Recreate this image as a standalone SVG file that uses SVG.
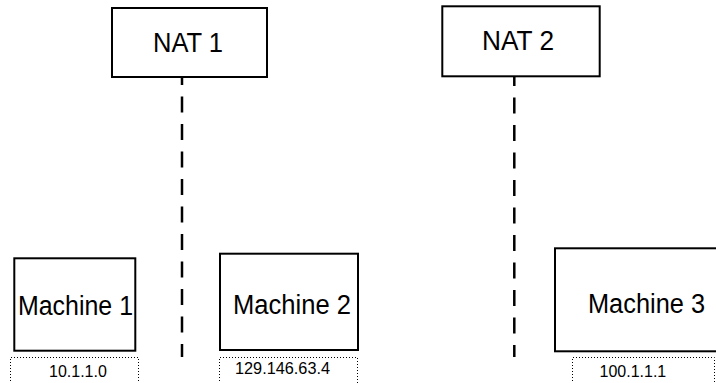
<svg xmlns="http://www.w3.org/2000/svg" width="716" height="383" viewBox="0 0 716 383">
<style>
.box{fill:#fff;stroke:#000;stroke-width:2}
.lbl{font-family:"Liberation Sans",Arial,sans-serif;font-size:27px;fill:#000}
.ip{font-family:"Liberation Sans",Arial,sans-serif;font-size:16px;fill:#000}
.dot{fill:none;stroke:#000;stroke-width:1;stroke-dasharray:1 2}
.dash{stroke:#000;stroke-width:2.5;stroke-dasharray:16 11.5;fill:none}
</style>
<rect width="716" height="383" fill="#fff"/>
<g id="connectors">
<line class="dash" x1="182" y1="78" x2="182" y2="357" stroke-dashoffset="9"/>
<line class="dash" x1="514.3" y1="76" x2="514.3" y2="357" stroke-dashoffset="6"/>
</g>
<g id="nat1">
<rect class="box" x="112" y="8" width="155" height="69"/>
<text class="lbl" x="153" y="51.5" textLength="70" lengthAdjust="spacingAndGlyphs">NAT 1</text>
</g>
<g id="nat2">
<rect class="box" x="442.3" y="6.3" width="157.4" height="70"/>
<text class="lbl" x="482" y="50" textLength="72" lengthAdjust="spacingAndGlyphs">NAT 2</text>
</g>
<g id="machine1">
<rect class="box" x="14.3" y="258.3" width="121" height="92.4"/>
<text class="lbl" x="18" y="315" textLength="115" lengthAdjust="spacingAndGlyphs">Machine 1</text>
</g>
<g id="machine2">
<rect class="box" x="220" y="253.7" width="138" height="96.3"/>
<text class="lbl" x="233" y="314" textLength="118" lengthAdjust="spacingAndGlyphs">Machine 2</text>
</g>
<g id="machine3">
<rect class="box" x="555" y="248.3" width="170" height="103"/>
<text class="lbl" x="588" y="312.5" textLength="117" lengthAdjust="spacingAndGlyphs">Machine 3</text>
</g>
<g id="ip1">
<path class="dot" d="M10.5 390 V357.5 H138.5 V390"/>
<text class="ip" x="49" y="377">10.1.1.0</text>
</g>
<g id="ip2">
<path class="dot" d="M219.5 390 V357.5 H357.5 V390"/>
<text class="ip" x="235" y="374" textLength="95" lengthAdjust="spacingAndGlyphs">129.146.63.4</text>
</g>
<g id="ip3">
<path class="dot" d="M572.5 390 V357.5 H714.5 V390"/>
<text class="ip" x="599.5" y="377">100.1.1.1</text>
</g>
</svg>
